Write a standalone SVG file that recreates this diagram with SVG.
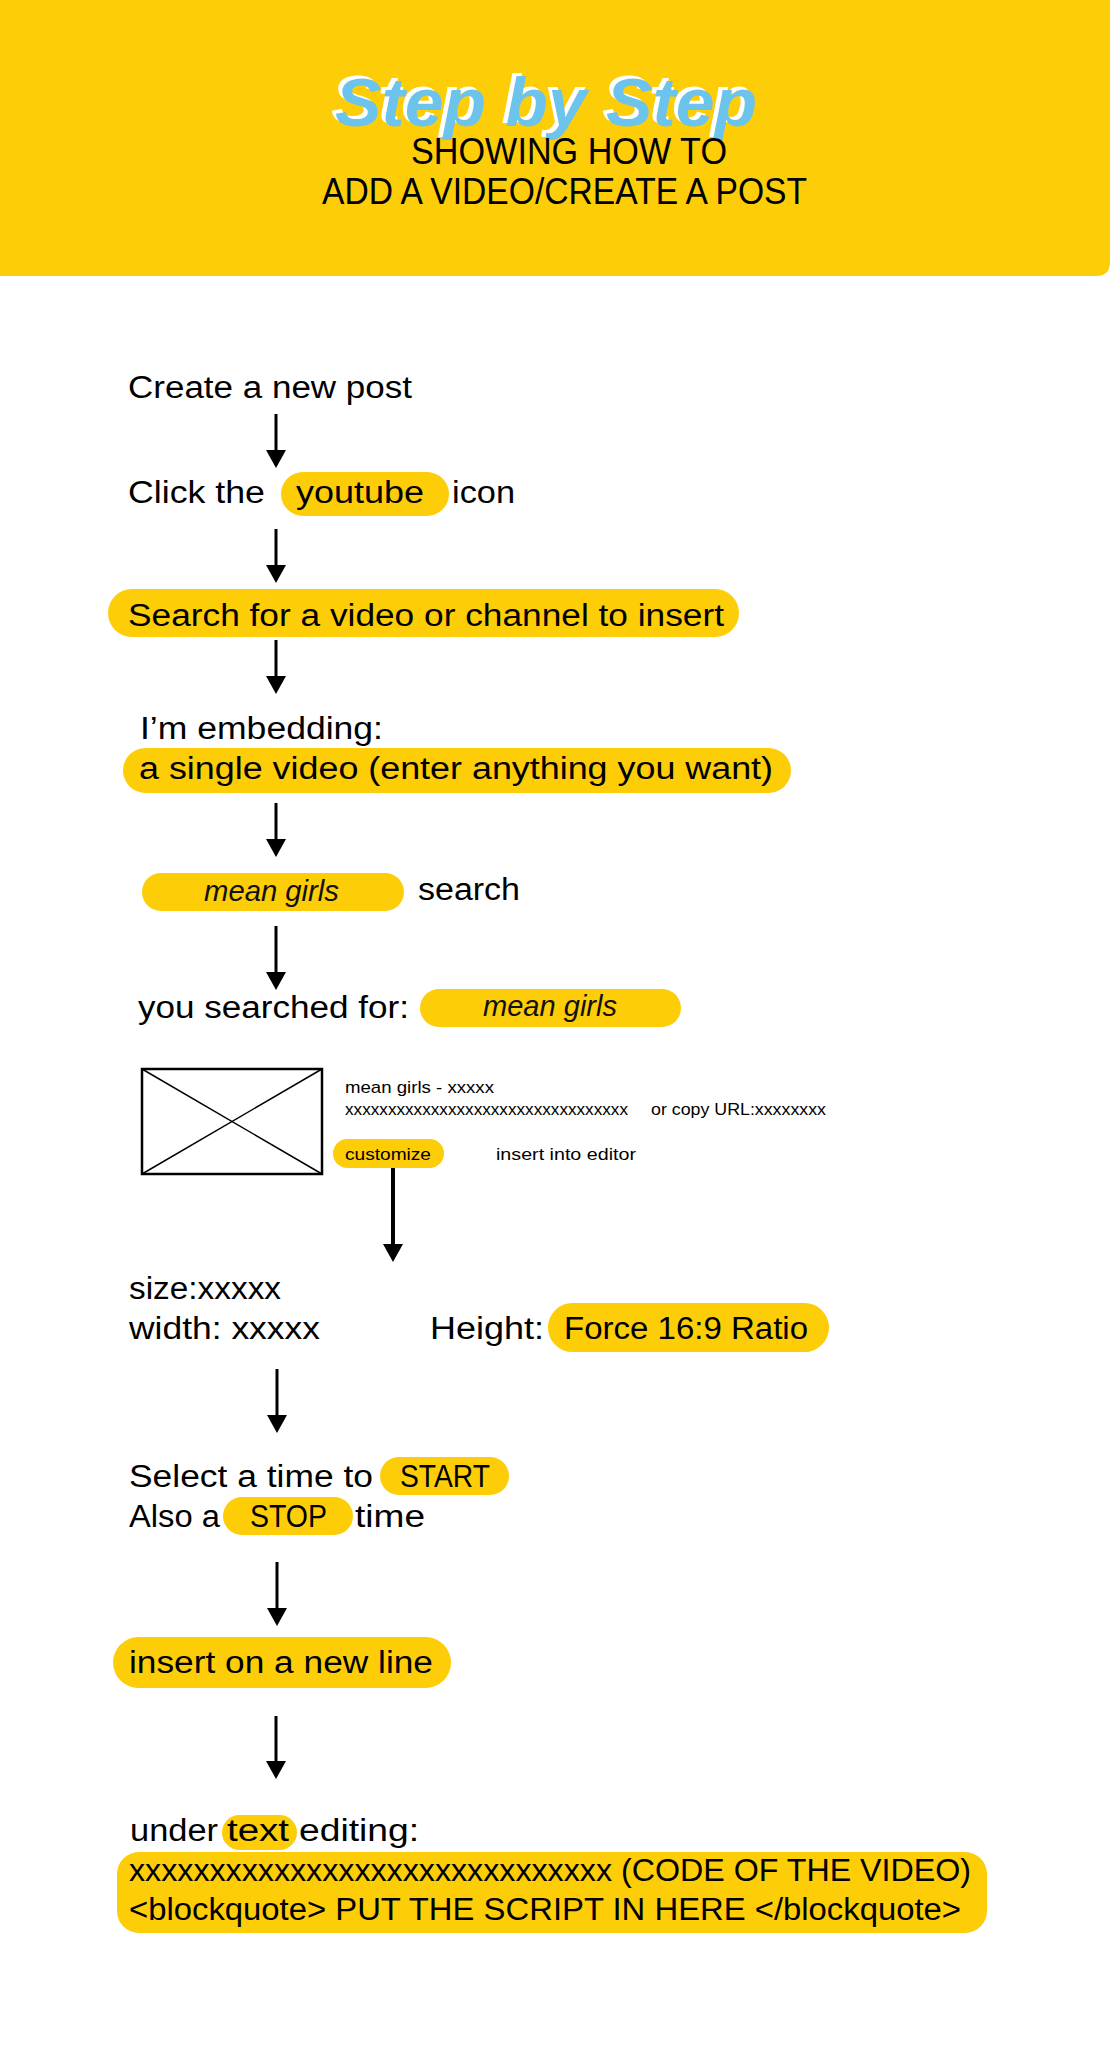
<svg xmlns="http://www.w3.org/2000/svg" width="1110" height="2046" viewBox="0 0 1110 2046">
<defs>
<style>
.t{font-family:"Liberation Sans","Noto Sans",Arial,sans-serif;font-size:31px;fill:#000}
.s{font-family:"Liberation Sans","Noto Sans",Arial,sans-serif;font-size:17px;fill:#000}
.i{font-family:"Liberation Sans","Noto Sans",Arial,sans-serif;font-size:29px;font-style:italic;font-weight:300;fill:#111}
.h{font-family:"Liberation Sans","Noto Sans",Arial,sans-serif;font-size:37px;fill:#000}
.ttl{font-family:"Liberation Sans","DejaVu Sans",sans-serif;font-size:68px;font-weight:bold;font-style:italic}
.pill{fill:#FDCD08}
.c{stroke:#000;stroke-width:3;fill:none}
</style>
<filter id="wshadow" x="-10%" y="-30%" width="120%" height="160%">
<feDropShadow dx="-4" dy="-3" stdDeviation="0" flood-color="#ffffff" flood-opacity="1"/>
</filter>
<marker id="ah" viewBox="0 0 18 20" refX="0" refY="10" markerWidth="18" markerHeight="20" markerUnits="userSpaceOnUse" orient="auto">
<path d="M0,0 L18,10 L0,20 Z" fill="#000"/>
</marker>
</defs>
<rect x="0" y="0" width="1110" height="2046" fill="#fff"/>
<g id="header">
<path d="M0,0 H1110 V262 Q1110,276 1096,276 H0 Z" fill="#FDCE08"/>
<text class="ttl" x="335" y="126" fill="#6CC3EC" filter="url(#wshadow)" textLength="422" lengthAdjust="spacingAndGlyphs">Step by Step</text>
<text class="h" x="411" y="164" textLength="316" lengthAdjust="spacingAndGlyphs">SHOWING HOW TO</text>
<text class="h" x="322" y="204" textLength="485" lengthAdjust="spacingAndGlyphs">ADD A VIDEO/CREATE A POST</text>
</g>
<g id="connectors">
<line class="c" x1="276" y1="414" x2="276" y2="450" marker-end="url(#ah)"/>
<line class="c" x1="276" y1="529" x2="276" y2="565" marker-end="url(#ah)"/>
<line class="c" x1="276" y1="640" x2="276" y2="676" marker-end="url(#ah)"/>
<line class="c" x1="276" y1="803" x2="276" y2="839" marker-end="url(#ah)"/>
<line class="c" x1="276" y1="926" x2="276" y2="972" marker-end="url(#ah)"/>
<line class="c" x1="393" y1="1168" x2="393" y2="1244" marker-end="url(#ah)" style="stroke-width:4"/>
<line class="c" x1="277" y1="1369" x2="277" y2="1415" marker-end="url(#ah)"/>
<line class="c" x1="277" y1="1562" x2="277" y2="1608" marker-end="url(#ah)"/>
<line class="c" x1="276" y1="1716" x2="276" y2="1761" marker-end="url(#ah)"/>
</g>
<g id="step1">
<text class="t" x="128" y="398" textLength="284" lengthAdjust="spacingAndGlyphs">Create a new post</text>
</g>
<g id="step2">
<text class="t" x="128" y="503" textLength="137" lengthAdjust="spacingAndGlyphs">Click the</text>
<rect class="pill" x="281" y="472" width="168" height="44" rx="22"/>
<text class="t" x="296" y="503" textLength="128" lengthAdjust="spacingAndGlyphs">youtube</text>
<text class="t" x="452" y="503" textLength="63" lengthAdjust="spacingAndGlyphs">icon</text>
</g>
<g id="step3">
<rect class="pill" x="108" y="589" width="631" height="48" rx="24"/>
<text class="t" x="128" y="626" textLength="596" lengthAdjust="spacingAndGlyphs">Search for a video or channel to insert</text>
</g>
<g id="step4">
<text class="t" x="140" y="739" textLength="243" lengthAdjust="spacingAndGlyphs">I’m embedding:</text>
<rect class="pill" x="123" y="748" width="668" height="45" rx="22.5"/>
<text class="t" x="139" y="779" textLength="634" lengthAdjust="spacingAndGlyphs">a single video (enter anything you want)</text>
</g>
<g id="step5">
<rect class="pill" x="142" y="873" width="262" height="38" rx="19"/>
<text class="i" x="204" y="901" textLength="135" lengthAdjust="spacingAndGlyphs">mean girls</text>
<text class="t" x="418" y="900" textLength="102" lengthAdjust="spacingAndGlyphs">search</text>
</g>
<g id="step6">
<text class="t" x="138" y="1018" textLength="271" lengthAdjust="spacingAndGlyphs">you searched for:</text>
<rect class="pill" x="420" y="989" width="261" height="38" rx="19"/>
<text class="i" x="483" y="1016" textLength="134" lengthAdjust="spacingAndGlyphs">mean girls</text>
</g>
<g id="result">
<rect x="142" y="1069" width="180" height="105" fill="none" stroke="#000" stroke-width="2.5"/>
<line x1="142" y1="1069" x2="322" y2="1174" stroke="#000" stroke-width="1.5"/>
<line x1="322" y1="1069" x2="142" y2="1174" stroke="#000" stroke-width="1.5"/>
<text class="s" x="345" y="1093" textLength="149" lengthAdjust="spacingAndGlyphs">mean girls - xxxxx</text>
<text class="s" x="345" y="1115" textLength="283" lengthAdjust="spacingAndGlyphs">xxxxxxxxxxxxxxxxxxxxxxxxxxxxxxxxx</text>
<text class="s" x="651" y="1115" textLength="175" lengthAdjust="spacingAndGlyphs">or copy URL:xxxxxxxx</text>
<rect class="pill" x="333" y="1139" width="111" height="29" rx="14.5"/>
<text class="s" x="345" y="1160" textLength="86" lengthAdjust="spacingAndGlyphs">customize</text>
<text class="s" x="496" y="1160" textLength="140" lengthAdjust="spacingAndGlyphs">insert into editor</text>
</g>
<g id="step7">
<text class="t" x="129" y="1299" textLength="152" lengthAdjust="spacingAndGlyphs">size:xxxxx</text>
<text class="t" x="129" y="1339" textLength="191" lengthAdjust="spacingAndGlyphs">width: xxxxx</text>
<text class="t" x="430" y="1339" textLength="114" lengthAdjust="spacingAndGlyphs">Height:</text>
<rect class="pill" x="548" y="1303" width="281" height="49" rx="24.5"/>
<text class="t" x="564" y="1339" textLength="244" lengthAdjust="spacingAndGlyphs">Force 16:9 Ratio</text>
</g>
<g id="step8">
<text class="t" x="129" y="1487" textLength="244" lengthAdjust="spacingAndGlyphs">Select a time to</text>
<rect class="pill" x="380" y="1457" width="129" height="38" rx="19"/>
<text class="t" x="400" y="1487" textLength="90" lengthAdjust="spacingAndGlyphs">START</text>
<text class="t" x="129" y="1527" textLength="91" lengthAdjust="spacingAndGlyphs">Also a</text>
<rect class="pill" x="223" y="1497" width="130" height="38" rx="19"/>
<text class="t" x="250" y="1527" textLength="77" lengthAdjust="spacingAndGlyphs">STOP</text>
<text class="t" x="355" y="1527" textLength="70" lengthAdjust="spacingAndGlyphs">time</text>
</g>
<g id="step9">
<rect class="pill" x="113" y="1637" width="338" height="51" rx="25.5"/>
<text class="t" x="129" y="1673" textLength="304" lengthAdjust="spacingAndGlyphs">insert on a new line</text>
</g>
<g id="step10">
<text class="t" x="130" y="1841" textLength="88" lengthAdjust="spacingAndGlyphs">under</text>
<rect class="pill" x="222" y="1815" width="75" height="35" rx="17.5"/>
<text class="t" x="227" y="1841" textLength="62" lengthAdjust="spacingAndGlyphs">text</text>
<text class="t" x="299" y="1841" textLength="120" lengthAdjust="spacingAndGlyphs">editing:</text>
<rect class="pill" x="117" y="1852" width="870" height="81" rx="22"/>
<text class="t" x="129" y="1881" textLength="842" lengthAdjust="spacingAndGlyphs">xxxxxxxxxxxxxxxxxxxxxxxxxxxxxx (CODE OF THE VIDEO)</text>
<text class="t" x="129" y="1920" textLength="832" lengthAdjust="spacingAndGlyphs">&lt;blockquote&gt; PUT THE SCRIPT IN HERE &lt;/blockquote&gt;</text>
</g>
</svg>
